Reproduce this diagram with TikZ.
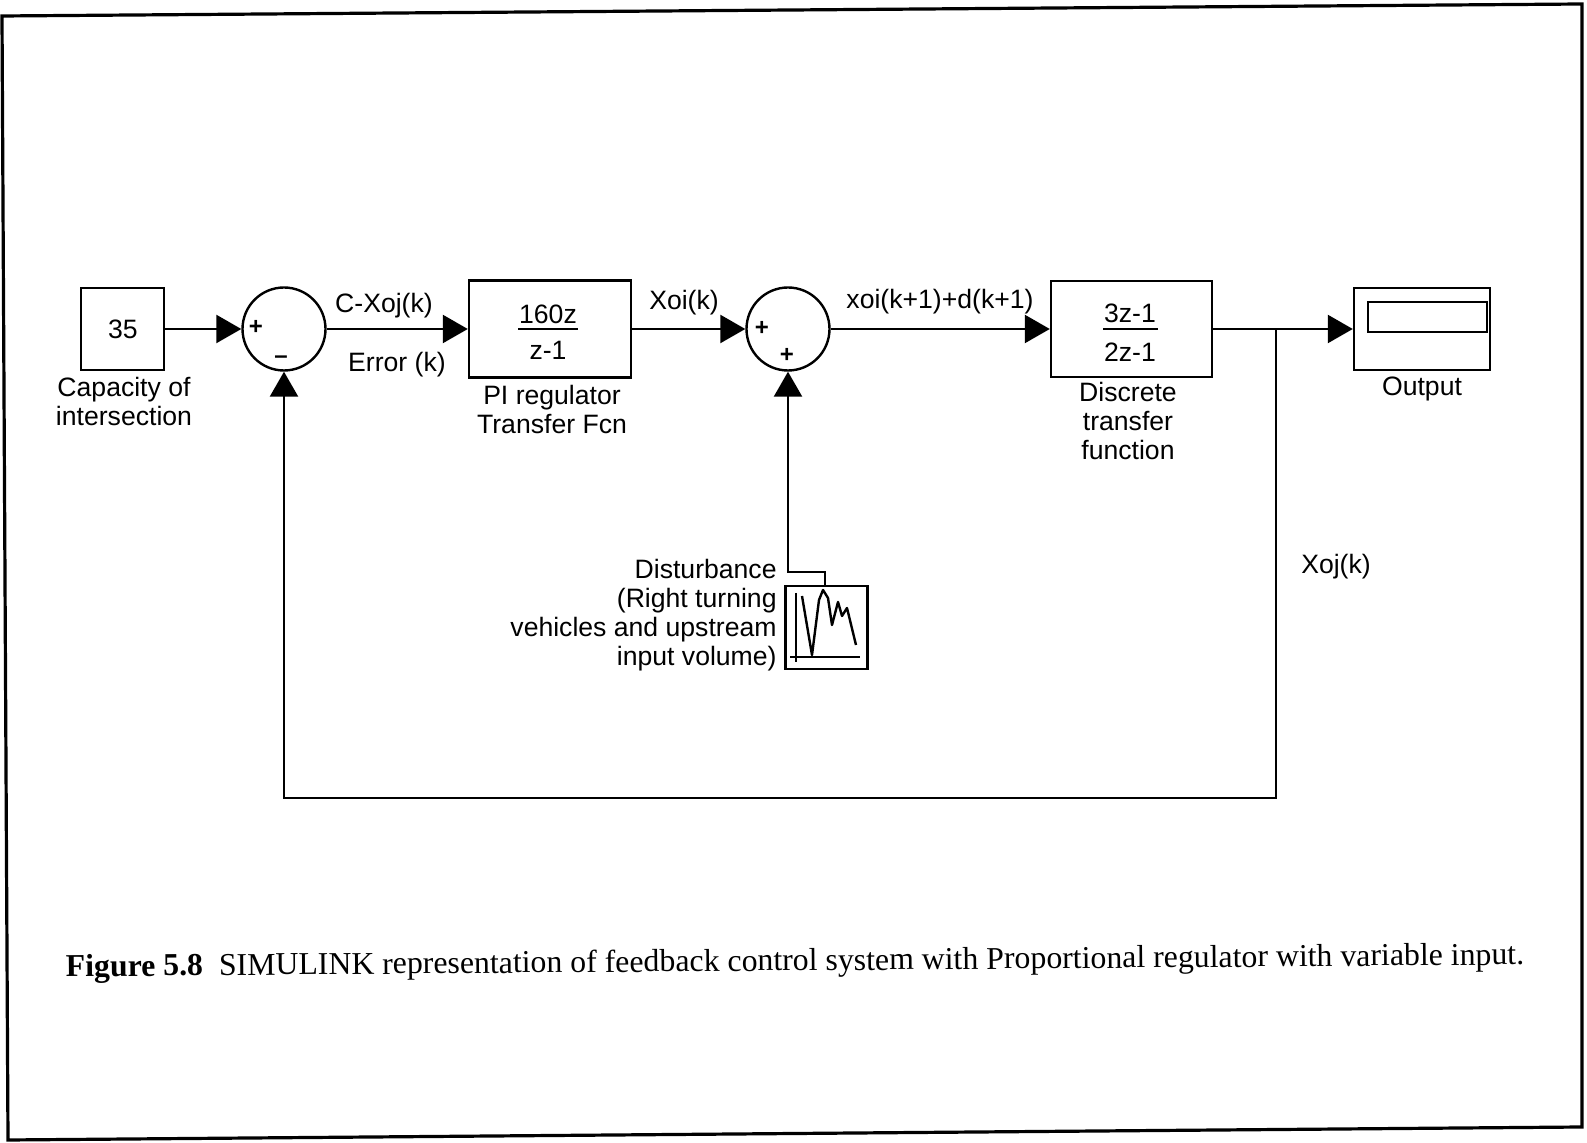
\documentclass[tikz,border=0pt]{standalone}
\usepackage{fontspec}
\setmainfont{Liberation Sans}
\newfontfamily\capfont{Liberation Serif}
\usetikzlibrary{arrows.meta}
\begin{document}
\begin{tikzpicture}[x=0.5pt,y=-0.5pt,
  lbl/.style={inner sep=0pt, font=\fontsize{13.3}{14.5}\selectfont, align=center},
  blk/.style={draw, line width=1.2pt, inner sep=0pt},
  sumc/.style={draw, circle, line width=1.2pt, inner sep=0pt, minimum size=41.5pt},
  wire/.style={line width=1.2pt},
  arr/.style={wire, -{Triangle[length=12.5pt,width=14pt]}},
  sgn/.style={inner sep=0pt, font=\fontsize{12}{12}\selectfont\bfseries}]
\useasboundingbox (0,0) rectangle (1587,1143);
% frame
\draw[line width=1.6pt] (2,16) -- (1582,4) -- (1582,1127) -- (8,1140) -- cycle;

% blocks
\node[blk, minimum width=41.5pt, minimum height=41pt] (c35) at (122.5,329) {};
\node[lbl] (c35t) at (123,329) {35};
\node[lbl] (c35l) at (124,401) {Capacity of\\intersection};

\node[sumc] (s1) at (284,329) {};
\node[sgn] (s1p) at (256,327) {+};
\node[sgn] (s1m) at (281,360) {--};

\node[blk, minimum width=81pt, minimum height=48.5pt] (pi) at (550,329) {};
\node[lbl] (pin) at (548,314) {160z};
\node[lbl] (pid) at (548,350) {z-1};
\draw[wire] (518,329) -- (578,329);
\node[lbl] (pil) at (552,409) {PI regulator\\Transfer Fcn};

\node[sumc] (s2) at (788,329) {};
\node[sgn] (s2p) at (762,328) {+};
\node[sgn] (s2q) at (787,355) {+};

\node[blk, minimum width=80.5pt, minimum height=48pt] (dtf) at (1131.5,329) {};
\node[lbl] (dn) at (1130,313) {3z-1};
\node[lbl] (dd) at (1130,352) {2z-1};
\draw[wire] (1103,329) -- (1158,329);
\node[lbl] (dl) at (1128,421) {Discrete\\transfer\\function};

\node[blk, minimum width=68pt, minimum height=41pt] (out) at (1422,329) {};
\node[blk, minimum width=59.5pt, minimum height=15pt] (scr) at (1427.5,317) {};
\node[lbl] (outl) at (1422,389) {Output};

\node[blk, minimum width=41pt, minimum height=41.5pt] (dist) at (826.5,627.5) {};
\draw[wire] (790,657) -- (860,657);
\draw[wire] (796,593) -- (796,662);
\draw[wire, line join=round] (802,596) -- (812,655) -- (819,600) -- (823,590) -- (828,598) -- (832,625) -- (838,602) -- (842,616) -- (847,608) -- (856,645);
\node[lbl, anchor=east, align=right] (distl) at (777,615) {Disturbance\\(Right turning\\vehicles and upstream\\input volume)};

% connectors
\draw[arr] (c35.east) -- (s1.west);
\draw[arr] (s1.east) -- (pi.west);
\node[lbl] (e1) at (384,306) {C-Xoj(k)};
\node[lbl] (e2) at (397,365) {Error (k)};
\draw[arr] (pi.east) -- (s2.west);
\node[lbl] (xoi) at (684,303) {Xoi(k)};
\draw[arr] (s2.east) -- (dtf.west);
\node[lbl] (xd) at (940,302) {xoi(k+1)+d(k+1)};
\coordinate (br) at (1276,329);
\draw[arr] (dtf.east) -- (out.west);
\coordinate (fbR) at (1276,798);
\draw[arr] (br) -- (fbR) -| (s1.south);
\node[lbl] (xoj) at (1336,567) {Xoj(k)};
\coordinate (dport) at (825,587);
\coordinate (dj1) at (825,572);
\coordinate (dj2) at (788,572);
\draw[arr] (dport) -- (dj1) -- (dj2) -- (s2.south);

% caption
\node[inner sep=0pt, rotate=0.47, font=\capfont\fontsize{15.9}{15.9}\selectfont] (cap) at (795,963)
  {\textbf{Figure 5.8}\ \ SIMULINK representation of feedback control system with Proportional regulator with variable input.};
\end{tikzpicture}
\end{document}
